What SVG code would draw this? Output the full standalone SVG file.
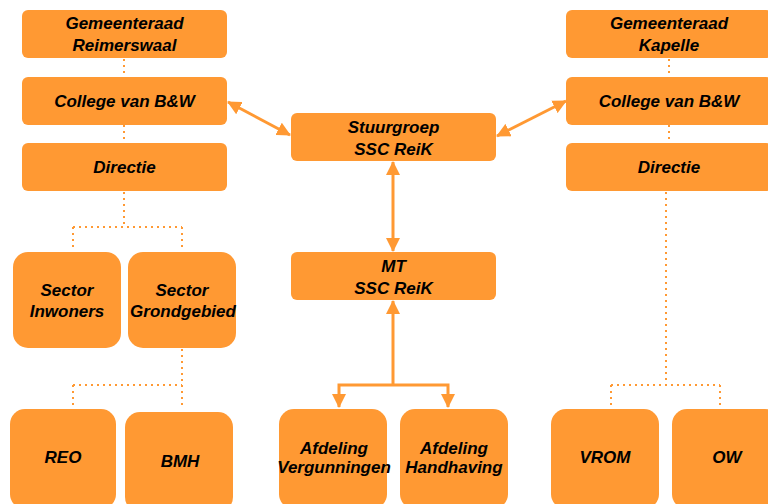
<svg xmlns="http://www.w3.org/2000/svg" width="768" height="504" viewBox="0 0 768 504">
<style>
.box{fill:#FF9933;}
.t{font-family:"Liberation Sans",Arial,sans-serif;font-weight:bold;font-style:italic;font-size:17px;fill:#000;text-anchor:middle;}
.dot{fill:none;stroke:#FF9933;stroke-width:2;stroke-dasharray:2 4;}
.arr{fill:none;stroke:#FF9933;stroke-width:3;}
</style>
<defs>
<marker id="ah" viewBox="0 0 14 14" refX="13" refY="7" markerWidth="14" markerHeight="14" markerUnits="userSpaceOnUse" orient="auto-start-reverse">
<path d="M0,0 L14,7 L0,14 Z" fill="#FF9933"/>
</marker>
</defs>
<rect width="768" height="504" fill="#fff"/>
<g id="connectors">
<path class="dot" d="M124,59 V77"/>
<path class="dot" d="M124,125 V143"/>
<path class="dot" d="M124,192 V227 M73,227 H182 M73,227 V250 M182,227 V250"/>
<path class="dot" d="M182,349 V407 M73,385 H182 M73,385 V407"/>
<path class="dot" d="M669,59 V77"/>
<path class="dot" d="M669,125 V143"/>
<path class="dot" d="M666,192 V385 M611,385 H720 M611,385 V407 M720,385 V407"/>
<path class="arr" d="M228,102 L290,135" marker-start="url(#ah)" marker-end="url(#ah)"/>
<path class="arr" d="M497,136 L566,101" marker-start="url(#ah)" marker-end="url(#ah)"/>
<path class="arr" d="M393,162 V251" marker-start="url(#ah)" marker-end="url(#ah)"/>
<path class="arr" d="M393,385 V301" marker-end="url(#ah)"/>
<path class="arr" d="M339,407 V385 H448 V407" marker-start="url(#ah)" marker-end="url(#ah)"/>
</g>
<g id="n_gem_reim"><rect class="box" x="22" y="10" width="205" height="48" rx="6"/><text class="t" x="124.5" y="29">Gemeenteraad</text><text class="t" x="124.5" y="51">Reimerswaal</text></g>
<g id="n_college_reim"><rect class="box" x="22" y="77" width="205" height="48" rx="6"/><text class="t" x="124.5" y="107">College van B&amp;W</text></g>
<g id="n_directie_reim"><rect class="box" x="22" y="143" width="205" height="48" rx="6"/><text class="t" x="124.5" y="173">Directie</text></g>
<g id="n_stuurgroep"><rect class="box" x="291" y="113" width="205" height="48" rx="6"/><text class="t" x="393.5" y="133">Stuurgroep</text><text class="t" x="393.5" y="155">SSC ReiK</text></g>
<g id="n_mt"><rect class="box" x="291" y="252" width="205" height="48" rx="6"/><text class="t" x="393.5" y="272">MT</text><text class="t" x="393.5" y="294">SSC ReiK</text></g>
<g id="n_gem_kap"><rect class="box" x="566" y="10" width="206" height="48" rx="6"/><text class="t" x="669" y="29">Gemeenteraad</text><text class="t" x="669" y="51">Kapelle</text></g>
<g id="n_college_kap"><rect class="box" x="566" y="77" width="206" height="48" rx="6"/><text class="t" x="669" y="107">College van B&amp;W</text></g>
<g id="n_directie_kap"><rect class="box" x="566" y="143" width="206" height="48" rx="6"/><text class="t" x="669" y="173">Directie</text></g>
<g id="n_sector_inw"><rect class="box" x="13" y="252" width="108" height="96" rx="15"/><text class="t" x="67" y="296">Sector</text><text class="t" x="67" y="317">Inwoners</text></g>
<g id="n_sector_grond"><rect class="box" x="128" y="252" width="108" height="96" rx="15"/><text class="t" x="182" y="296">Sector</text><text class="t" x="183" y="317">Grondgebied</text></g>
<g id="n_reo"><rect class="box" x="10" y="409" width="106" height="100" rx="15"/><text class="t" x="63" y="463">REO</text></g>
<g id="n_bmh"><rect class="box" x="125" y="412" width="108" height="100" rx="15"/><text class="t" x="180" y="467">BMH</text></g>
<g id="n_afd_verg"><rect class="box" x="279" y="409" width="108" height="100" rx="15"/><text class="t" x="334" y="454">Afdeling</text><text class="t" x="334" y="473">Vergunningen</text></g>
<g id="n_afd_handh"><rect class="box" x="400" y="409" width="108" height="100" rx="15"/><text class="t" x="454" y="454">Afdeling</text><text class="t" x="454" y="473">Handhaving</text></g>
<g id="n_vrom"><rect class="box" x="551" y="409" width="108" height="100" rx="15"/><text class="t" x="605" y="463">VROM</text></g>
<g id="n_ow"><rect class="box" x="672" y="409" width="108" height="100" rx="15"/><text class="t" x="727" y="463">OW</text></g>
</svg>
